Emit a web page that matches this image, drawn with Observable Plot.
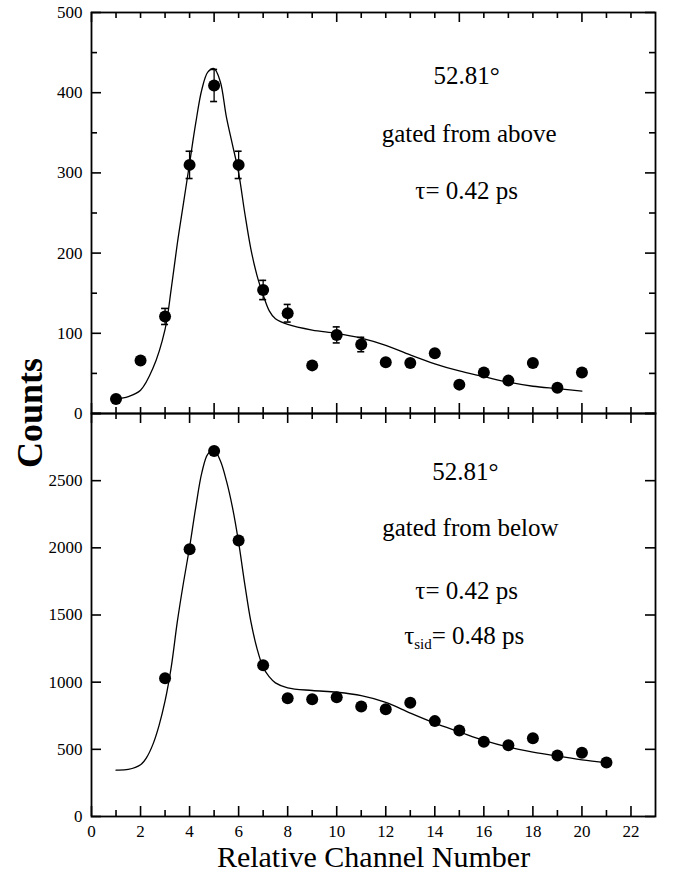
<!DOCTYPE html>
<html><head><meta charset="utf-8">
<script src="https://cdn.jsdelivr.net/npm/d3@7"></script>
<script src="https://cdn.jsdelivr.net/npm/@observablehq/plot@0.6"></script>
<style>
body{margin:0;background:#fff;}
#wrap{position:relative;width:673px;height:879px;font-family:"Liberation Serif",serif;overflow:hidden;}
#top,#bot{position:absolute;left:0;}
#top{top:0}
#bot{top:406px}
#ylab{position:absolute;left:30px;top:413px;transform:translate(-50%,-50%) rotate(-90deg);font-weight:bold;font-size:36px;white-space:nowrap;}
</style></head><body>
<div id="wrap"><div id="top"></div><div id="bot"></div><div id="ylab">Counts</div></div>
<script>
// ---------- data: top panel (gated from above) ----------
const channelsTop = [1,2,3,4,5,6,7,8,9,10,11,12,13,14,15,16,17,18,19,20];
const countsTop   = [18,66,121,310,409,310,154,125,60,98,86,64,63,75,36,51,41,63,32,51];
const errorsTop   = [0,0,10,17,20,17,12,11,0,10,9,0,0,0,0,0,0,0,0,0];
const fitTopX = [1,1.5,2,2.5,3,3.25,3.5,3.75,4,4.25,4.5,4.75,5,5.25,5.5,5.75,6,6.25,6.5,6.75,7,7.25,7.5,8,9,10,11,12,13,14,15,16,17,18,19,20];
const fitTopY = [18,21,29,56,105,155,212,262,312,362,404,426,430,414,370,335,300,250,205,172,148,128,118,111,104,100,94,85,73,62,53,46,39,34,31,28];

// ---------- data: bottom panel (gated from below) ----------
const channelsBot = [3,4,5,6,7,8,9,10,11,12,13,14,15,16,17,18,19,20,21];
const countsBot   = [1030,1990,2720,2055,1126,881,873,888,819,799,846,710,640,556,531,583,454,474,402];
const fitBotX = [1,1.5,2,2.25,2.5,2.75,3,3.25,3.5,3.75,4,4.25,4.5,4.75,5,5.25,5.5,5.75,6,6.25,6.5,6.75,7,7.25,7.5,8,9,10,11,12,13,14,15,16,17,18,19,20,21];
const fitBotY = [345,350,385,440,535,675,860,1110,1450,1740,2005,2300,2560,2700,2725,2650,2500,2300,2040,1730,1450,1250,1110,1040,995,958,938,925,900,850,770,695,630,566,516,479,449,422,400];

// ---------- ticks / labels ----------
const topYLabels = [0,100,200,300,400,500];
const topYMinor  = [50,150,250,350,450];
const topXMajor  = [0,5,10,15,20];
const topXMinor  = [1,2,3,4,6,7,8,9,11,12,13,14,16,17,18,19,21,22];
const botYTicks  = [0,500,1000,1500,2000,2500,3000];
const botYLabels = [0,500,1000,1500,2000,2500];
const botXLabels = [0,2,4,6,8,10,12,14,16,18,20,22];
const botXMinor  = [1,3,5,7,9,11,13,15,17,19,21];

const annoTopText = ["52.81°","gated from above","τ= 0.42 ps"];
const annoTopX    = [15.3,15.4,15.3];
const annoTopY    = [421,348,277];
const annoBotText = ["52.81°","gated from below","τ= 0.42 ps","τsid= 0.48 ps"];
const annoBotX    = [15.25,15.45,15.3,15.2];
const annoBotY    = [2561,2151,1682,1347];

const xTitle = "Relative Channel Number";

const W = 673, ML = 91, MR = 18;
const FW = W - ML - MR;
const FONT = "'Liberation Serif', 'Times New Roman', serif";
const fmt = d => String(d);

function edgeTicks(H, yMaj, yMin, xMaj, xMin) {
  const m = [];
  const big = 10, small = 6;
  const yT = (arr, len) => [
    Plot.tickY(arr, {y: d => d, insetRight: FW - len, stroke: "black", strokeWidth: 1.6}),
    Plot.tickY(arr, {y: d => d, insetLeft: FW - len, stroke: "black", strokeWidth: 1.6})
  ];
  const xT = (arr, len) => [
    Plot.tickX(arr, {x: d => d, insetTop: H - len, stroke: "black", strokeWidth: 1.6}),
    Plot.tickX(arr, {x: d => d, insetBottom: H - len, stroke: "black", strokeWidth: 1.6})
  ];
  m.push(...yT(yMaj, big));
  if (yMin) m.push(...yT(yMin, small));
  m.push(...xT(xMaj, big));
  m.push(...xT(xMin, small));
  return m;
}

// ---------- top plot ----------
const topPts = channelsTop.map((x, i) => ({x, y: countsTop[i], e: errorsTop[i]}));
const topErr = topPts.filter(d => d.e > 0).map(d => ({x: d.x, lo: d.y - d.e, hi: d.y + d.e}));
const topFit = fitTopX.map((x, i) => ({x, y: fitTopY[i]}));
const topAnno = annoTopText.map((t, i) => ({t, x: annoTopX[i], y: annoTopY[i]}));

const topH = 420;
const topPlot = Plot.plot({
  width: W, height: topH,
  marginLeft: ML, marginRight: MR, marginTop: 12, marginBottom: 7,
  style: {fontFamily: FONT, background: "transparent", overflow: "visible", color: "black"},
  x: {domain: [0, 23], axis: null},
  y: {domain: [0, 500], axis: null},
  marks: [
    Plot.line(topFit, {x: "x", y: "y", curve: "catmull-rom", stroke: "black", strokeWidth: 1.3}),
    Plot.ruleX(topErr, {x: "x", y1: "lo", y2: "hi", stroke: "black", strokeWidth: 1.3}),
    Plot.ruleY(topErr, {x1: "x", x2: "x", y: "hi", insetLeft: -3.5, insetRight: -3.5, stroke: "black", strokeWidth: 1.6}),
    Plot.ruleY(topErr, {x1: "x", x2: "x", y: "lo", insetLeft: -3.5, insetRight: -3.5, stroke: "black", strokeWidth: 1.6}),
    Plot.dot(topPts, {x: "x", y: "y", r: 6, fill: "black"}),
    ...edgeTicks(topH - 19, topYLabels, topYMinor, topXMajor, topXMinor),
    Plot.frame({stroke: "black", strokeWidth: 1.8}),
    Plot.axisY(topYLabels, {tickSize: 0, tickPadding: 9, fontSize: 17, label: null, tickFormat: fmt}),
    Plot.text(topAnno, {x: "x", y: "y", text: "t", fontSize: 25, textAnchor: "middle", fill: "black"})
  ]
});
document.getElementById("top").appendChild(topPlot);

// ---------- bottom plot ----------
const botPts = channelsBot.map((x, i) => ({x, y: countsBot[i]}));
const botFit = fitBotX.map((x, i) => ({x, y: fitBotY[i]}));
const botAnno = annoBotText.map((t, i) => ({t, x: annoBotX[i], y: annoBotY[i]}));

const botH = 473;
const botPlot = Plot.plot({
  width: W, height: botH,
  marginLeft: ML, marginRight: MR, marginTop: 7, marginBottom: 63,
  style: {fontFamily: FONT, background: "transparent", overflow: "visible", color: "black"},
  x: {domain: [0, 23], axis: null},
  y: {domain: [0, 3000], axis: null},
  marks: [
    Plot.line(botFit, {x: "x", y: "y", curve: "catmull-rom", stroke: "black", strokeWidth: 1.3}),
    Plot.dot(botPts, {x: "x", y: "y", r: 6, fill: "black"}),
    ...edgeTicks(botH - 70, botYTicks, null, botXLabels, botXMinor),
    Plot.frame({stroke: "black", strokeWidth: 1.8}),
    Plot.axisY(botYLabels, {tickSize: 0, tickPadding: 9, fontSize: 17, label: null, tickFormat: fmt}),
    Plot.axisX(botXLabels, {tickSize: 0, tickPadding: 8, fontSize: 17, label: null, tickFormat: fmt}),
    Plot.text(botAnno, {x: "x", y: "y", text: "t", fontSize: 25, textAnchor: "middle", fill: "black"}),
    Plot.text([xTitle], {frameAnchor: "bottom", dy: 50, fontSize: 30, fill: "black"})
  ]
});
// subscript "sid"
botPlot.querySelectorAll("text").forEach(t => {
  if (t.textContent === "τsid= 0.48 ps") {
    t.textContent = "";
    const ns = "http://www.w3.org/2000/svg";
    const a = document.createElementNS(ns, "tspan"); a.textContent = "τ";
    const b = document.createElementNS(ns, "tspan"); b.textContent = "sid";
    b.setAttribute("font-size", "15"); b.setAttribute("dy", "5");
    const c = document.createElementNS(ns, "tspan"); c.textContent = "= 0.48 ps";
    c.setAttribute("dy", "-5");
    t.appendChild(a); t.appendChild(b); t.appendChild(c);
  }
});
document.getElementById("bot").appendChild(botPlot);
</script>
</body></html>
